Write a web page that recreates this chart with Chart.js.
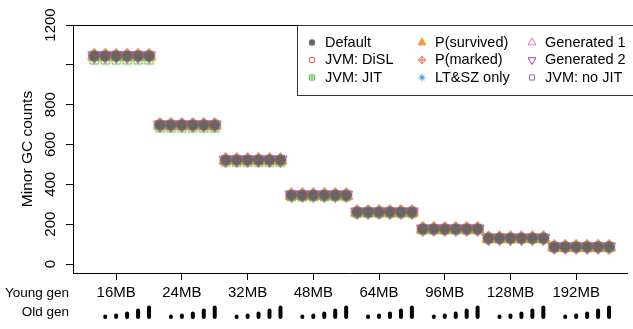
<!DOCTYPE html>
<html>
<head>
<meta charset="utf-8">
<script src="https://cdn.jsdelivr.net/npm/chart.js@4.4.0/dist/chart.umd.min.js"></script>
<style>
  html,body{margin:0;padding:0;background:#fff;overflow:hidden}
</style>
</head>
<body>
<canvas id="gcChart" width="633" height="329"></canvas>
<script>
// young gen sizes (x axis groups), 6 old gen settings per group
const youngGen = ['16MB','24MB','32MB','48MB','64MB','96MB','128MB','192MB'];
const oldGenSize = [0, 1, 3, 7, 13, 19];
const yTickValues = [0, 200, 400, 600, 800, 1000, 1200];
const yTickLabels = ['0', '200', '400', '600', '800', '', '1200'];

// minor GC counts, 48 points per series (group by group)
const countsDefault  = [1045,1045,1045,1045,1045,1045, 698,698,698,698,698,698, 522,522,522,522,522,522, 346,346,346,346,346,346, 261,261,261,261,261,261, 176,176,176,176,176,176, 130,130,130,130,130,130, 86,86,86,86,86,86];
const countsDisl     = [1045,1045,1045,1045,1045,1045, 698,698,698,698,698,698, 522,522,522,522,522,522, 346,346,346,346,346,346, 261,261,261,261,261,261, 176,176,176,176,176,176, 130,130,130,130,130,130, 86,86,86,86,86,86];
const countsJit      = [1025,1025,1025,1025,1025,1025, 684,684,684,684,684,684, 512,512,512,512,512,512, 339,339,339,339,339,339, 256,256,256,256,256,256, 172,172,172,172,172,172, 127,127,127,127,127,127, 84,84,84,84,84,84];
const countsSurvived = [1045,1045,1045,1045,1045,1045, 698,698,698,698,698,698, 522,522,522,522,522,522, 346,346,346,346,346,346, 261,261,261,261,261,261, 176,176,176,176,176,176, 130,130,130,130,130,130, 86,86,86,86,86,86];
const countsMarked   = [1045,1045,1045,1045,1045,1045, 698,698,698,698,698,698, 522,522,522,522,522,522, 346,346,346,346,346,346, 261,261,261,261,261,261, 176,176,176,176,176,176, 130,130,130,130,130,130, 86,86,86,86,86,86];
const countsLtsz     = [1048,1048,1048,1048,1048,1048, 700,700,700,700,700,700, 524,524,524,524,524,524, 347,347,347,347,347,347, 262,262,262,262,262,262, 177,177,177,177,177,177, 131,131,131,131,131,131, 86,86,86,86,86,86];
const countsGen1     = [1045,1045,1045,1045,1045,1045, 698,698,698,698,698,698, 522,522,522,522,522,522, 346,346,346,346,346,346, 261,261,261,261,261,261, 176,176,176,176,176,176, 130,130,130,130,130,130, 86,86,86,86,86,86];
const countsGen2     = [1045,1045,1045,1045,1045,1045, 698,698,698,698,698,698, 522,522,522,522,522,522, 346,346,346,346,346,346, 261,261,261,261,261,261, 176,176,176,176,176,176, 130,130,130,130,130,130, 86,86,86,86,86,86];
const countsNoJit    = [1045,1045,1045,1045,1045,1045, 698,698,698,698,698,698, 522,522,522,522,522,522, 346,346,346,346,346,346, 261,261,261,261,261,261, 176,176,176,176,176,176, 130,130,130,130,130,130, 86,86,86,86,86,86];

const FONT_FAMILY = '"Liberation Sans", Arial, Helvetica, sans-serif';
const tickFont = {family: FONT_FAMILY, size: 15};
const titleFont = {family: FONT_FAMILY, size: 15.5};

// R-like plotting symbols drawn into small canvases
function makeMarker(shape, color, R){
  const size = Math.ceil(R*3.4) + 4;
  const c = document.createElement('canvas');
  c.width = c.height = size;
  const g = c.getContext('2d');
  const cx = size/2, cy = size/2;
  g.strokeStyle = color;
  g.fillStyle = color;
  g.lineWidth = 1;
  g.beginPath();
  const s = R*0.886, d = R*1.253, t0 = R*1.555, t1 = R*1.347, t2 = R*0.778;
  switch(shape){
    case 'dot':
      g.arc(cx, cy, R, 0, Math.PI*2); g.fill(); g.stroke(); break;
    case 'circle':
      g.arc(cx, cy, R, 0, Math.PI*2); g.stroke(); break;
    case 'square':
      g.rect(cx-s, cy-s, 2*s, 2*s); g.stroke(); break;
    case 'squarePlus':
      g.rect(cx-s, cy-s, 2*s, 2*s);
      g.moveTo(cx-s, cy); g.lineTo(cx+s, cy);
      g.moveTo(cx, cy-s); g.lineTo(cx, cy+s);
      g.stroke(); break;
    case 'diamondPlus':
      g.moveTo(cx-d, cy); g.lineTo(cx, cy-d); g.lineTo(cx+d, cy); g.lineTo(cx, cy+d); g.closePath();
      g.moveTo(cx-d, cy); g.lineTo(cx+d, cy);
      g.moveTo(cx, cy-d); g.lineTo(cx, cy+d);
      g.stroke(); break;
    case 'triFill':
      g.moveTo(cx, cy-t0); g.lineTo(cx+t1, cy+t2); g.lineTo(cx-t1, cy+t2); g.closePath();
      g.fill(); g.stroke(); break;
    case 'tri':
      g.moveTo(cx, cy-t0); g.lineTo(cx+t1, cy+t2); g.lineTo(cx-t1, cy+t2); g.closePath();
      g.stroke(); break;
    case 'triDown':
      g.moveTo(cx, cy+t0); g.lineTo(cx+t1, cy-t2); g.lineTo(cx-t1, cy-t2); g.closePath();
      g.stroke(); break;
    case 'asterisk': {
      const a = R*1.2, b = R*0.85;
      g.moveTo(cx-a, cy); g.lineTo(cx+a, cy);
      g.moveTo(cx, cy-a); g.lineTo(cx, cy+a);
      g.moveTo(cx-b, cy-b); g.lineTo(cx+b, cy+b);
      g.moveTo(cx-b, cy+b); g.lineTo(cx+b, cy-b);
      g.stroke(); break;
    }
  }
  return c;
}

const seriesDefs = [
  {label:'Default',      data:countsDefault,  shape:'dot',         color:'#666666'},
  {label:'JVM: DiSL',    data:countsDisl,     shape:'circle',      color:'#F04B46'},
  {label:'JVM: JIT',     data:countsJit,      shape:'squarePlus',  color:'#5DBB4B'},
  {label:'P(survived)',  data:countsSurvived, shape:'triFill',     color:'#F7993A'},
  {label:'P(marked)',    data:countsMarked,   shape:'diamondPlus', color:'#D9693F'},
  {label:'LT&SZ only',   data:countsLtsz,     shape:'asterisk',    color:'#3C90DA'},
  {label:'Generated 1',  data:countsGen1,     shape:'tri',         color:'#DA68C8'},
  {label:'Generated 2',  data:countsGen2,     shape:'triDown',     color:'#B43C9E'},
  {label:'JVM: no JIT',  data:countsNoJit,    shape:'square',      color:'#9A6AB8'}
];

const datasets = seriesDefs.map(s=>({
  label: s.label,
  data: s.data.map((v,k)=>({x:k, y:v})),
  pointStyle: makeMarker(s.shape, s.color, 4.8),
  legendMarker: makeMarker(s.shape, s.color, 2.9),
  pointRadius: 5,
  showLine: false
}));

const extras = {
  id: 'extras',
  afterDraw(chart){
    const {ctx, chartArea:a, scales:{x}} = chart;
    ctx.save();
    ctx.strokeStyle = '#000';
    ctx.lineWidth = 1;
    // top frame line
    ctx.beginPath();
    ctx.moveTo(a.left, Math.round(a.top)+0.5);
    ctx.lineTo(a.right, Math.round(a.top)+0.5);
    ctx.stroke();

    // legend box, columns filled top to bottom
    ctx.fillStyle = '#fff';
    ctx.fillRect(297.5, 25.5, 340, 70);
    ctx.strokeStyle = '#333';
    ctx.strokeRect(297.5, 25.5, 340, 70);
    ctx.font = '14.5px ' + FONT_FAMILY;
    ctx.fillStyle = '#000';
    ctx.textAlign = 'left';
    ctx.textBaseline = 'middle';
    chart.data.datasets.forEach((ds,i)=>{
      const col = Math.floor(i/3), row = i%3;
      const sx = 312 + col*110, ty = 42.5 + row*17.5;
      const m = ds.legendMarker;
      ctx.drawImage(m, sx - m.width/2, ty - m.height/2);
      ctx.fillText(ds.label, sx + 13, ty);
    });

    // row captions under the x axis
    ctx.font = '13.5px ' + FONT_FAMILY;
    ctx.textAlign = 'right';
    ctx.textBaseline = 'alphabetic';
    ctx.fillText('Young gen', 69, 297);
    ctx.fillText('Old gen', 69, 316);

    // old gen size glyphs
    ctx.strokeStyle = '#000';
    ctx.lineCap = 'round';
    ctx.lineWidth = 4;
    youngGen.forEach((_,i)=>{
      oldGenSize.forEach((sz,j)=>{
        if(!sz) return;
        const px = x.getPixelForValue(i*6 + j);
        ctx.beginPath();
        ctx.moveTo(px, 317);
        ctx.lineTo(px, 317 - sz*0.5);
        ctx.stroke();
      });
    });
    ctx.restore();
  }
};

new Chart(document.getElementById('gcChart').getContext('2d'), {
  type: 'scatter',
  data: {datasets},
  options: {
    responsive: false,
    animation: false,
    events: [],
    layout: {padding: {top:25, left:0, right:0, bottom:0}},
    plugins: {legend:{display:false}, tooltip:{enabled:false}},
    scales: {
      x: {
        type: 'linear',
        min: -1.94,
        max: 48.64,
        afterBuildTicks: s => { s.ticks = youngGen.map((_,i)=>({value:i*6 + 2})); },
        afterFit: s => { s.height = 56; },
        ticks: {callback:(v,i)=>youngGen[i], font:tickFont, color:'#000', padding:4, maxRotation:0, minRotation:0, autoSkip:false},
        grid: {drawOnChartArea:false, tickLength:7, color:'#000'},
        border: {display:true, color:'#000'}
      },
      y: {
        min: -45,
        max: 1200,
        afterBuildTicks: s => { s.ticks = yTickValues.map(v=>({value:v})); },
        afterFit: s => { s.width = 73; },
        ticks: {callback:(v,i)=>yTickLabels[i], font:tickFont, color:'#000', minRotation:90, maxRotation:90, crossAlign:'center', padding:-2},
        grid: {drawOnChartArea:false, tickLength:7, color:'#000'},
        border: {display:true, color:'#000'},
        title: {display:true, text:'Minor GC counts', font:titleFont, color:'#000', padding:{top:18.6, bottom:0}}
      }
    }
  },
  plugins: [extras]
});
</script>
</body>
</html>
